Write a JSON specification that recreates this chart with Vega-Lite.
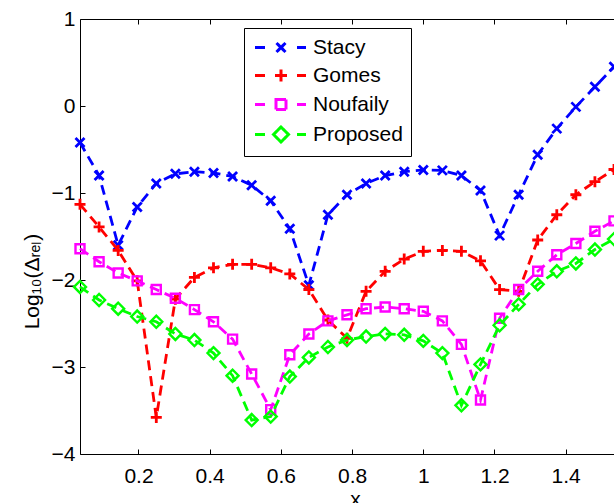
{
  "$schema": "https://vega.github.io/schema/vega-lite/v6.json",
  "autosize": {"type": "none"},
  "padding": {"left": 80, "top": 19, "right": 0, "bottom": 49},
  "width": 534,
  "height": 435,
  "config": {
    "view": {"stroke": null},
    "axis": {
      "labelFont": "Liberation Sans", "labelFontSize": 21, "labelColor": "black",
      "titleFont": "Liberation Sans", "titleFontSize": 21, "titleFontWeight": "normal", "titleColor": "black",
      "domainColor": "black", "domainWidth": 1, "tickColor": "black", "tickWidth": 1, "grid": false
    }
  },
  "datasets": {
    "d": [
      {"series":"Stacy","x":0.0357,"y":-0.42},{"series":"Stacy","x":0.0893,"y":-0.80},{"series":"Stacy","x":0.1429,"y":-1.60},{"series":"Stacy","x":0.1964,"y":-1.16},{"series":"Stacy","x":0.2500,"y":-0.89},{"series":"Stacy","x":0.3036,"y":-0.78},{"series":"Stacy","x":0.3571,"y":-0.755},{"series":"Stacy","x":0.4107,"y":-0.77},{"series":"Stacy","x":0.4643,"y":-0.81},{"series":"Stacy","x":0.5179,"y":-0.91},{"series":"Stacy","x":0.5714,"y":-1.09},{"series":"Stacy","x":0.6250,"y":-1.41},{"series":"Stacy","x":0.6786,"y":-2.06},{"series":"Stacy","x":0.7321,"y":-1.25},{"series":"Stacy","x":0.7857,"y":-1.02},{"series":"Stacy","x":0.8393,"y":-0.89},{"series":"Stacy","x":0.8929,"y":-0.80},{"series":"Stacy","x":0.9464,"y":-0.755},{"series":"Stacy","x":1.0000,"y":-0.735},{"series":"Stacy","x":1.0536,"y":-0.74},{"series":"Stacy","x":1.1071,"y":-0.80},{"series":"Stacy","x":1.1607,"y":-0.97},{"series":"Stacy","x":1.2143,"y":-1.49},{"series":"Stacy","x":1.2679,"y":-1.02},{"series":"Stacy","x":1.3214,"y":-0.56},{"series":"Stacy","x":1.3750,"y":-0.26},{"series":"Stacy","x":1.4286,"y":-0.01},{"series":"Stacy","x":1.4821,"y":0.22},{"series":"Stacy","x":1.5357,"y":0.45},
      {"series":"Gomes","x":0.0357,"y":-1.13},{"series":"Gomes","x":0.0893,"y":-1.39},{"series":"Gomes","x":0.1429,"y":-1.66},{"series":"Gomes","x":0.1964,"y":-2.01},{"series":"Gomes","x":0.2500,"y":-3.58},{"series":"Gomes","x":0.3036,"y":-2.22},{"series":"Gomes","x":0.3571,"y":-1.97},{"series":"Gomes","x":0.4107,"y":-1.86},{"series":"Gomes","x":0.4643,"y":-1.82},{"series":"Gomes","x":0.5179,"y":-1.82},{"series":"Gomes","x":0.5714,"y":-1.86},{"series":"Gomes","x":0.6250,"y":-1.93},{"series":"Gomes","x":0.6786,"y":-2.11},{"series":"Gomes","x":0.7321,"y":-2.46},{"series":"Gomes","x":0.7857,"y":-2.67},{"series":"Gomes","x":0.8393,"y":-2.13},{"series":"Gomes","x":0.8929,"y":-1.90},{"series":"Gomes","x":0.9464,"y":-1.76},{"series":"Gomes","x":1.0000,"y":-1.67},{"series":"Gomes","x":1.0536,"y":-1.66},{"series":"Gomes","x":1.1071,"y":-1.67},{"series":"Gomes","x":1.1607,"y":-1.78},{"series":"Gomes","x":1.2143,"y":-2.11},{"series":"Gomes","x":1.2679,"y":-2.13},{"series":"Gomes","x":1.3214,"y":-1.54},{"series":"Gomes","x":1.3750,"y":-1.25},{"series":"Gomes","x":1.4286,"y":-1.02},{"series":"Gomes","x":1.4821,"y":-0.87},{"series":"Gomes","x":1.5357,"y":-0.73},
      {"series":"Noufaily","x":0.0357,"y":-1.64},{"series":"Noufaily","x":0.0893,"y":-1.79},{"series":"Noufaily","x":0.1429,"y":-1.92},{"series":"Noufaily","x":0.1964,"y":-2.01},{"series":"Noufaily","x":0.2500,"y":-2.11},{"series":"Noufaily","x":0.3036,"y":-2.21},{"series":"Noufaily","x":0.3571,"y":-2.34},{"series":"Noufaily","x":0.4107,"y":-2.48},{"series":"Noufaily","x":0.4643,"y":-2.68},{"series":"Noufaily","x":0.5179,"y":-3.08},{"series":"Noufaily","x":0.5714,"y":-3.49},{"series":"Noufaily","x":0.6250,"y":-2.86},{"series":"Noufaily","x":0.6786,"y":-2.62},{"series":"Noufaily","x":0.7321,"y":-2.47},{"series":"Noufaily","x":0.7857,"y":-2.40},{"series":"Noufaily","x":0.8393,"y":-2.33},{"series":"Noufaily","x":0.8929,"y":-2.31},{"series":"Noufaily","x":0.9464,"y":-2.33},{"series":"Noufaily","x":1.0000,"y":-2.36},{"series":"Noufaily","x":1.0536,"y":-2.47},{"series":"Noufaily","x":1.1071,"y":-2.74},{"series":"Noufaily","x":1.1607,"y":-3.38},{"series":"Noufaily","x":1.2143,"y":-2.44},{"series":"Noufaily","x":1.2679,"y":-2.11},{"series":"Noufaily","x":1.3214,"y":-1.90},{"series":"Noufaily","x":1.3750,"y":-1.71},{"series":"Noufaily","x":1.4286,"y":-1.58},{"series":"Noufaily","x":1.4821,"y":-1.44},{"series":"Noufaily","x":1.5357,"y":-1.32},
      {"series":"Proposed","x":0.0357,"y":-2.08},{"series":"Proposed","x":0.0893,"y":-2.23},{"series":"Proposed","x":0.1429,"y":-2.33},{"series":"Proposed","x":0.1964,"y":-2.42},{"series":"Proposed","x":0.2500,"y":-2.48},{"series":"Proposed","x":0.3036,"y":-2.62},{"series":"Proposed","x":0.3571,"y":-2.69},{"series":"Proposed","x":0.4107,"y":-2.84},{"series":"Proposed","x":0.4643,"y":-3.10},{"series":"Proposed","x":0.5179,"y":-3.61},{"series":"Proposed","x":0.5714,"y":-3.57},{"series":"Proposed","x":0.6250,"y":-3.11},{"series":"Proposed","x":0.6786,"y":-2.89},{"series":"Proposed","x":0.7321,"y":-2.77},{"series":"Proposed","x":0.7857,"y":-2.69},{"series":"Proposed","x":0.8393,"y":-2.65},{"series":"Proposed","x":0.8929,"y":-2.62},{"series":"Proposed","x":0.9464,"y":-2.63},{"series":"Proposed","x":1.0000,"y":-2.70},{"series":"Proposed","x":1.0536,"y":-2.84},{"series":"Proposed","x":1.1071,"y":-3.44},{"series":"Proposed","x":1.1607,"y":-2.97},{"series":"Proposed","x":1.2143,"y":-2.52},{"series":"Proposed","x":1.2679,"y":-2.28},{"series":"Proposed","x":1.3214,"y":-2.05},{"series":"Proposed","x":1.3750,"y":-1.90},{"series":"Proposed","x":1.4286,"y":-1.81},{"series":"Proposed","x":1.4821,"y":-1.65},{"series":"Proposed","x":1.5357,"y":-1.53}
    ]
  },
  "data": {"name": "d"},
  "resolve": {"axis": {"x": "independent"}},
  "encoding": {
    "y": {
      "field": "y", "type": "quantitative",
      "scale": {"domain": [-4, 1], "nice": false, "zero": false},
      "axis": {"values": [-4, -3, -2, -1, 0, 1], "format": "d", "tickSize": -5, "labelPadding": 10, "title": "Log₁₀(Δᵣₑₗ)", "titlePadding": 9, "titleY": 262}
    },
    "color": {
      "field": "series", "type": "nominal",
      "scale": {"domain": ["Stacy", "Gomes", "Noufaily", "Proposed"], "range": ["#0000ff", "#ff0000", "#ff00ff", "#00ff00"]},
      "legend": {
        "title": null, "orient": "none", "legendX": 164, "legendY": 9,
        "strokeColor": "black", "fillColor": "white", "padding": 8, "cornerRadius": 0,
        "labelFont": "Liberation Sans", "labelFontSize": 21, "labelColor": "black",
        "symbolSize": 400, "symbolStrokeWidth": 3, "rowPadding": 5, "labelOffset": 38,
        "encode": {"symbols": {"update": {
          "shape": {"signal": "datum.value === 'Stacy' ? 'M-0.85,0L0.15,0M3.35,0L4.25,0M1.3,-0.45L2.2,0.45M1.3,0.45L2.2,-0.45' : datum.value === 'Gomes' ? 'M-0.85,0L0.15,0M3.35,0L4.25,0M1.15,0L2.35,0M1.75,-0.6L1.75,0.6' : datum.value === 'Noufaily' ? 'M-0.85,0L0.15,0M3.35,0L4.25,0M1.25,-0.5L2.25,-0.5L2.25,0.5L1.25,0.5Z' : 'M-0.85,0L0.15,0M3.35,0L4.25,0M1.0,0L1.75,-0.75L2.5,0L1.75,0.75Z'"},
          "fill": {"value": "transparent"},
          "strokeDash": {"value": [1, 0]},
          "strokeWidth": {"value": 3},
          "opacity": {"value": 1}
        }}}
      }
    }
  },
  "layer": [
    {
      "transform": [{"filter": "datum.series === 'Stacy'"}],
      "mark": {"type": "line", "strokeDash": [10, 6], "strokeWidth": 2.8},
      "encoding": {
        "x": {
          "field": "x", "type": "quantitative",
          "scale": {"domain": [0.0357, 1.5357], "nice": false, "zero": false},
          "axis": {"orient": "bottom", "values": [0.2, 0.4, 0.6, 0.8, 1, 1.2, 1.4], "format": ".1~f", "tickSize": -5, "labelPadding": 16, "title": "x", "titlePadding": 2, "titleX": 275}
        }
      }
    },
    {
      "transform": [{"filter": "datum.series === 'Stacy'"}],
      "mark": {"type": "point", "filled": false, "size": 100, "strokeWidth": 2.8, "opacity": 1, "shape": "M-0.9,-0.9L0.9,0.9M-0.9,0.9L0.9,-0.9"},
      "encoding": {
        "x": {
          "field": "x", "type": "quantitative",
          "scale": {"domain": [0.0357, 1.5357], "nice": false, "zero": false},
          "axis": {"orient": "top", "values": [0.2, 0.4, 0.6, 0.8, 1, 1.2, 1.4], "labels": false, "tickSize": -5, "title": null}
        }
      }
    },
    {
      "transform": [{"filter": "datum.series === 'Gomes'"}],
      "mark": {"type": "line", "strokeDash": [10, 6], "strokeWidth": 2.8},
      "encoding": {"x": {"field": "x", "type": "quantitative", "scale": {"domain": [0.0357, 1.5357], "nice": false, "zero": false}, "axis": null}}
    },
    {
      "transform": [{"filter": "datum.series === 'Gomes'"}],
      "mark": {"type": "point", "filled": false, "size": 100, "strokeWidth": 2.8, "opacity": 1, "shape": "M-1.1,0L1.1,0M0,-1.1L0,1.1"},
      "encoding": {"x": {"field": "x", "type": "quantitative", "scale": {"domain": [0.0357, 1.5357], "nice": false, "zero": false}, "axis": null}}
    },
    {
      "transform": [{"filter": "datum.series === 'Noufaily'"}],
      "mark": {"type": "line", "strokeDash": [10, 6], "strokeWidth": 2.8},
      "encoding": {"x": {"field": "x", "type": "quantitative", "scale": {"domain": [0.0357, 1.5357], "nice": false, "zero": false}, "axis": null}}
    },
    {
      "transform": [{"filter": "datum.series === 'Noufaily'"}],
      "mark": {"type": "point", "filled": false, "size": 100, "strokeWidth": 2.4, "opacity": 1, "shape": "M-0.9,-0.9L0.9,-0.9L0.9,0.9L-0.9,0.9Z"},
      "encoding": {"x": {"field": "x", "type": "quantitative", "scale": {"domain": [0.0357, 1.5357], "nice": false, "zero": false}, "axis": null}}
    },
    {
      "transform": [{"filter": "datum.series === 'Proposed'"}],
      "mark": {"type": "line", "strokeDash": [10, 6], "strokeWidth": 2.8},
      "encoding": {"x": {"field": "x", "type": "quantitative", "scale": {"domain": [0.0357, 1.5357], "nice": false, "zero": false}, "axis": null}}
    },
    {
      "transform": [{"filter": "datum.series === 'Proposed'"}],
      "mark": {"type": "point", "filled": false, "size": 100, "strokeWidth": 2.4, "opacity": 1, "shape": "M-1.2,0L0,-1.2L1.2,0L0,1.2Z"},
      "encoding": {"x": {"field": "x", "type": "quantitative", "scale": {"domain": [0.0357, 1.5357], "nice": false, "zero": false}, "axis": null}}
    }
  ]
}
